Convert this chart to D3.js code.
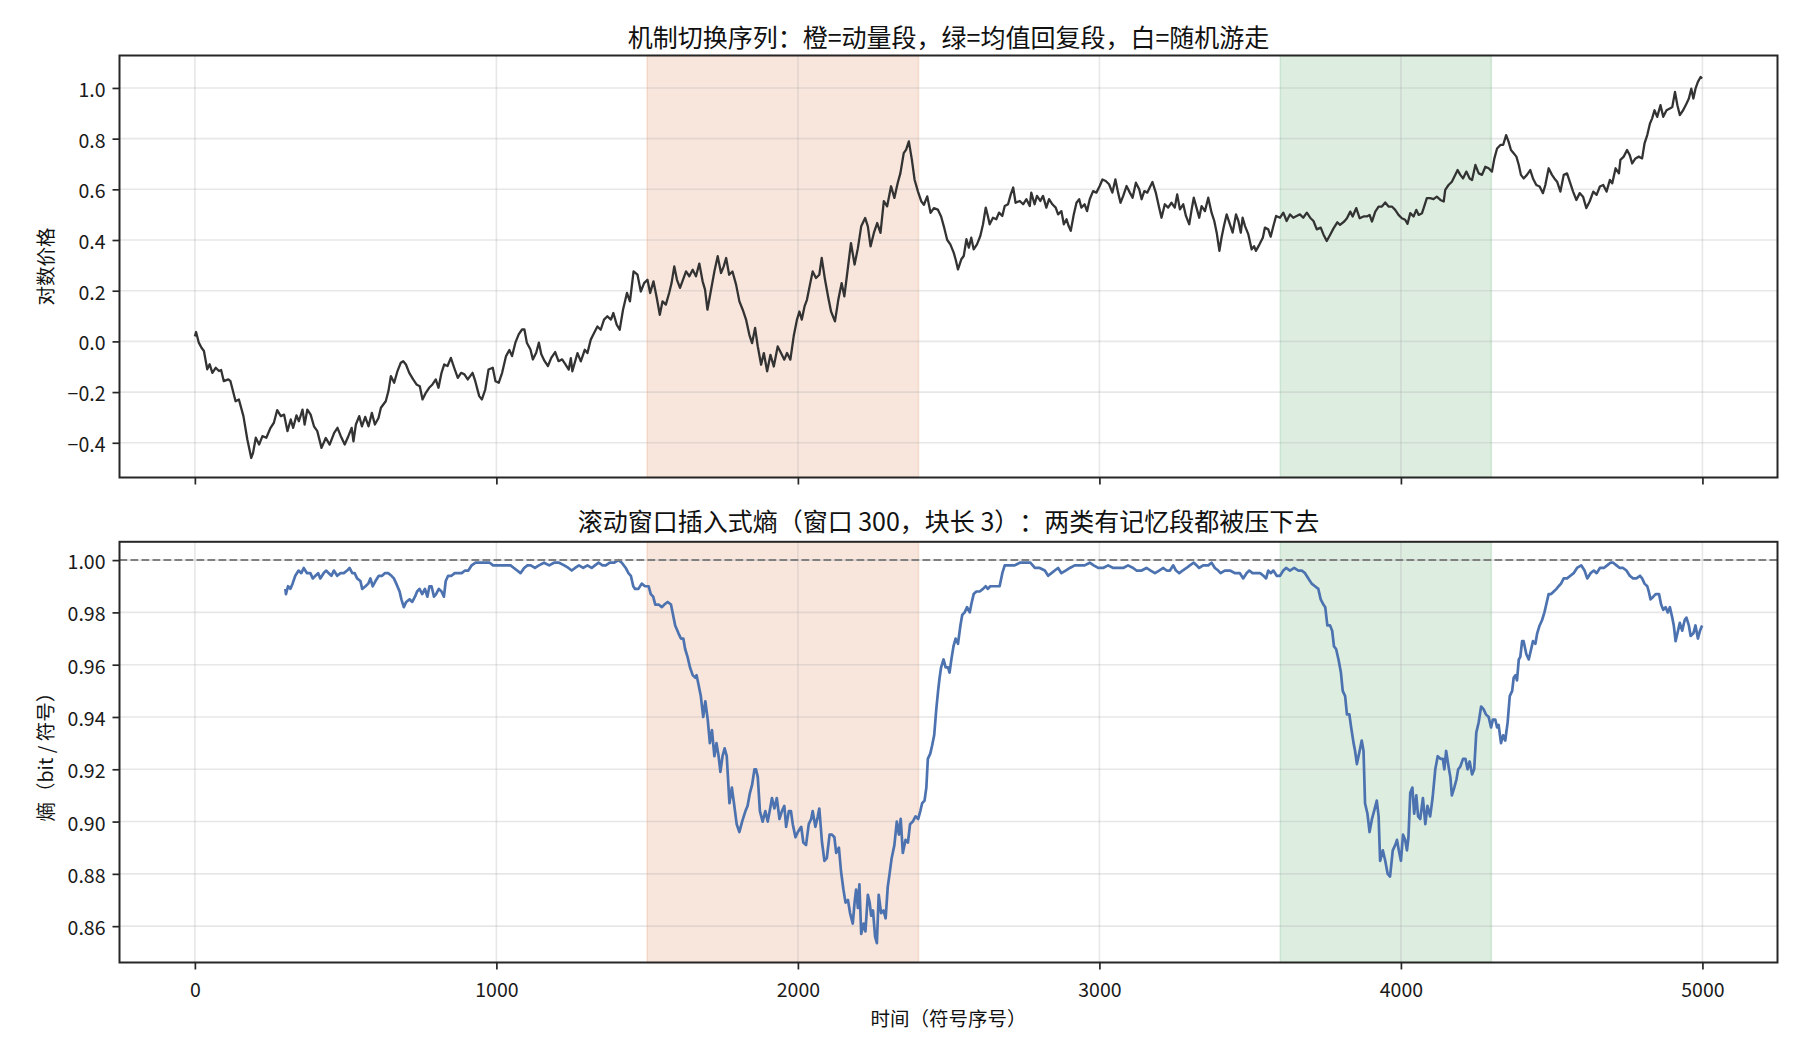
<!DOCTYPE html>
<html>
<head>
<meta charset="utf-8">
<script src="https://cdn.jsdelivr.net/npm/d3@7"></script>
<style>
  body { margin: 0; background: #fff; }
  svg { font-family: "Noto Sans CJK SC", "Noto Sans", sans-serif; }
  svg text { text-spacing-trim: space-all; font-kerning: none; }
</style>
</head>
<body>
<svg id="chart" width="1800" height="1050"></svg>
<script>
// ---- data ----
const xTicks = [0, 1000, 2000, 3000, 4000, 5000];
const priceTicks = [-0.4, -0.2, 0.0, 0.2, 0.4, 0.6, 0.8, 1.0];
const entropyTicks = [0.86, 0.88, 0.90, 0.92, 0.94, 0.96, 0.98, 1.00];
const momentumSpan = [1500, 2400];
const meanRevSpan = [3600, 4300];
const entropyRef = 1.0;

const topTitle = '机制切换序列：橙=动量段，绿=均值回复段，白=随机游走';
const bottomTitle = '滚动窗口插入式熵（窗口 300，块长 3）：两类有记忆段都被压下去';
const priceLabel = '对数价格';
const entropyLabel = '熵（bit / 符号）';
const xLabel = '时间（符号序号）';

// [symbol index, log price]
const priceSeries = [
  [0,0.02],[4,0.037],[13,-0.005],[22,-0.025],[30,-0.038],[41,-0.11],[49,-0.09],[58,-0.124],[69,-0.104],[80,-0.117],
  [87,-0.113],[96,-0.157],[111,-0.15],[118,-0.157],[135,-0.236],[146,-0.229],[161,-0.295],[174,-0.387],[187,-0.46],[193,-0.44],
  [202,-0.38],[213,-0.407],[224,-0.374],[237,-0.38],[251,-0.341],[262,-0.321],[273,-0.271],[285,-0.295],[296,-0.289],[307,-0.354],
  [318,-0.308],[326,-0.341],[337,-0.292],[345,-0.315],[357,-0.269],[364,-0.328],[373,-0.269],[384,-0.289],[395,-0.335],[406,-0.354],
  [420,-0.42],[434,-0.381],[447,-0.407],[462,-0.361],[473,-0.341],[484,-0.374],[497,-0.407],[509,-0.374],[520,-0.341],[526,-0.394],
  [534,-0.328],[545,-0.295],[554,-0.335],[565,-0.298],[576,-0.335],[587,-0.282],[597,-0.328],[609,-0.302],[617,-0.262],[633,-0.236],
  [642,-0.196],[650,-0.137],[661,-0.163],[672,-0.117],[683,-0.084],[691,-0.078],[700,-0.091],[711,-0.124],[724,-0.15],[735,-0.17],
  [746,-0.177],[755,-0.229],[766,-0.203],[777,-0.183],[788,-0.17],[799,-0.15],[808,-0.183],[818,-0.124],[827,-0.091],[838,-0.097],
  [849,-0.065],[860,-0.104],[872,-0.144],[883,-0.124],[894,-0.13],[905,-0.15],[913,-0.137],[921,-0.124],[930,-0.157],[943,-0.216],
  [952,-0.229],[963,-0.19],[974,-0.111],[988,-0.104],[997,-0.157],[1008,-0.163],[1019,-0.124],[1032,-0.058],[1043,-0.034],[1052,-0.058],
  [1063,-0.005],[1074,0.028],[1085,0.047],[1093,0.047],[1101,-0.005],[1113,-0.032],[1121,-0.071],[1132,-0.045],[1141,-0.005],[1149,-0.051],
  [1160,-0.078],[1171,-0.097],[1182,-0.065],[1195,-0.042],[1206,-0.078],[1218,-0.071],[1229,-0.091],[1240,-0.111],[1247,-0.066],[1252,-0.118],
  [1269,-0.046],[1280,-0.079],[1293,-0.033],[1302,-0.046],[1313,0.007],[1324,0.033],[1335,0.059],[1346,0.046],[1357,0.086],[1368,0.099],
  [1380,0.086],[1388,0.112],[1399,0.066],[1409,0.046],[1420,0.125],[1433,0.191],[1443,0.158],[1455,0.276],[1468,0.263],[1479,0.197],
  [1490,0.23],[1501,0.243],[1510,0.191],[1521,0.237],[1532,0.171],[1542,0.105],[1551,0.158],[1562,0.145],[1573,0.191],[1581,0.23],
  [1590,0.296],[1599,0.243],[1609,0.211],[1617,0.237],[1629,0.276],[1640,0.257],[1651,0.283],[1662,0.257],[1673,0.307],[1684,0.237],
  [1692,0.204],[1700,0.125],[1712,0.204],[1723,0.276],[1734,0.336],[1745,0.27],[1754,0.296],[1762,0.329],[1772,0.263],[1783,0.276],
  [1795,0.224],[1806,0.158],[1817,0.125],[1828,0.086],[1839,0.026],[1848,-0.007],[1858,0.053],[1867,-0.02],[1878,-0.092],[1887,-0.046],
  [1898,-0.118],[1909,-0.053],[1920,-0.099],[1933,-0.02],[1944,-0.046],[1955,-0.072],[1964,-0.046],[1975,-0.072],[1986,0.02],[1997,0.086],
  [2005,0.118],[2013,0.086],[2022,0.138],[2030,0.164],[2040,0.224],[2049,0.276],[2060,0.25],[2071,0.263],[2079,0.329],[2090,0.243],
  [2101,0.171],[2110,0.118],[2123,0.079],[2134,0.164],[2145,0.23],[2154,0.178],[2163,0.263],[2176,0.388],[2188,0.303],[2199,0.368],
  [2210,0.454],[2223,0.487],[2232,0.454],[2241,0.375],[2252,0.428],[2263,0.467],[2274,0.428],[2285,0.553],[2296,0.533],[2309,0.612],
  [2320,0.566],[2331,0.625],[2340,0.664],[2351,0.743],[2359,0.757],[2368,0.789],[2378,0.717],[2387,0.638],[2398,0.592],[2409,0.553],
  [2418,0.539],[2429,0.572],[2440,0.507],[2451,0.526],[2464,0.52],[2475,0.493],[2484,0.454],[2495,0.401],[2506,0.382],[2517,0.349],
  [2523,0.324],[2531,0.284],[2542,0.324],[2550,0.337],[2559,0.403],[2567,0.37],[2575,0.409],[2583,0.363],[2594,0.383],[2605,0.416],
  [2614,0.462],[2623,0.528],[2630,0.495],[2636,0.462],[2647,0.488],[2658,0.482],[2667,0.508],[2678,0.495],[2686,0.534],[2697,0.541],
  [2706,0.58],[2714,0.607],[2722,0.547],[2736,0.554],[2747,0.541],[2758,0.561],[2769,0.534],[2774,0.587],[2785,0.541],[2793,0.574],
  [2804,0.554],[2813,0.574],[2824,0.528],[2833,0.561],[2844,0.541],[2855,0.528],[2863,0.501],[2874,0.514],[2882,0.462],[2891,0.482],
  [2898,0.455],[2905,0.436],[2915,0.501],[2924,0.547],[2933,0.561],[2940,0.528],[2951,0.541],[2959,0.514],[2968,0.561],[2979,0.593],
  [2990,0.587],[3001,0.613],[3010,0.639],[3021,0.633],[3032,0.62],[3043,0.587],[3053,0.639],[3062,0.587],[3070,0.547],[3079,0.574],
  [3090,0.613],[3101,0.587],[3110,0.567],[3121,0.626],[3132,0.6],[3140,0.561],[3149,0.593],[3159,0.587],[3167,0.607],[3176,0.629],
  [3187,0.587],[3198,0.528],[3206,0.488],[3217,0.541],[3228,0.528],[3239,0.547],[3250,0.528],[3258,0.58],[3267,0.521],[3278,0.541],
  [3287,0.495],[3298,0.462],[3306,0.521],[3313,0.567],[3322,0.528],[3331,0.488],[3339,0.534],[3350,0.514],[3361,0.567],[3372,0.508],
  [3381,0.475],[3389,0.429],[3398,0.357],[3405,0.409],[3413,0.455],[3422,0.501],[3433,0.462],[3442,0.429],[3453,0.501],[3461,0.475],
  [3469,0.429],[3475,0.488],[3483,0.455],[3494,0.422],[3505,0.363],[3513,0.376],[3519,0.357],[3531,0.383],[3542,0.409],[3549,0.449],
  [3560,0.442],[3568,0.413],[3577,0.455],[3586,0.495],[3599,0.488],[3610,0.508],[3621,0.475],[3632,0.501],[3643,0.488],[3654,0.495],
  [3665,0.501],[3676,0.488],[3688,0.508],[3699,0.488],[3710,0.475],[3721,0.442],[3734,0.449],[3743,0.422],[3754,0.396],[3765,0.42],
  [3776,0.445],[3789,0.47],[3798,0.46],[3812,0.473],[3821,0.486],[3832,0.512],[3840,0.493],[3852,0.526],[3863,0.486],[3876,0.493],
  [3887,0.493],[3896,0.499],[3904,0.473],[3915,0.512],[3926,0.532],[3937,0.532],[3948,0.548],[3959,0.532],[3970,0.532],[3981,0.519],
  [3992,0.499],[4003,0.486],[4014,0.48],[4022,0.464],[4031,0.506],[4042,0.493],[4051,0.519],[4059,0.499],[4070,0.506],[4077,0.532],
  [4086,0.565],[4097,0.565],[4108,0.561],[4119,0.571],[4131,0.558],[4142,0.552],[4147,0.598],[4158,0.617],[4169,0.63],[4180,0.657],
  [4188,0.676],[4197,0.657],[4206,0.643],[4217,0.67],[4228,0.643],[4236,0.637],[4247,0.696],[4258,0.663],[4269,0.657],[4280,0.689],
  [4291,0.683],[4302,0.67],[4310,0.722],[4319,0.761],[4330,0.775],[4339,0.775],[4349,0.814],[4357,0.788],[4365,0.755],[4374,0.742],
  [4383,0.729],[4391,0.696],[4398,0.657],[4407,0.643],[4418,0.657],[4429,0.676],[4438,0.643],[4449,0.617],[4460,0.611],[4471,0.585],
  [4479,0.617],[4490,0.683],[4501,0.657],[4509,0.643],[4518,0.63],[4529,0.591],[4540,0.657],[4551,0.663],[4560,0.63],[4571,0.591],
  [4582,0.558],[4593,0.585],[4604,0.571],[4615,0.526],[4626,0.552],[4638,0.591],[4649,0.578],[4660,0.611],[4671,0.617],[4682,0.591],
  [4693,0.637],[4701,0.624],[4712,0.683],[4723,0.663],[4728,0.716],[4739,0.729],[4750,0.755],[4759,0.735],[4767,0.702],[4778,0.722],
  [4789,0.729],[4800,0.722],[4808,0.781],[4817,0.814],[4826,0.86],[4833,0.879],[4841,0.912],[4850,0.886],[4861,0.932],[4870,0.886],
  [4881,0.912],[4892,0.919],[4900,0.925],[4909,0.984],[4917,0.932],[4925,0.893],[4936,0.912],[4947,0.938],[4955,0.958],[4963,0.997],
  [4970,0.958],[4977,0.997],[4985,1.024],[4994,1.043],[4999,1.037]
];

// [symbol index, rolling entropy in bit/symbol], starts after the first 300-symbol window
const entropySeries = [
  [300,0.989],[302,0.987],[309,0.990],[317,0.989],[324,0.991],[333,0.994],[344,0.996],[353,0.995],[361,0.997],[372,0.995],
  [383,0.995],[391,0.993],[400,0.994],[409,0.995],[416,0.993],[427,0.995],[435,0.996],[444,0.995],[453,0.994],[461,0.996],
  [472,0.994],[483,0.995],[494,0.995],[505,0.996],[513,0.997],[522,0.995],[530,0.995],[538,0.993],[549,0.992],[555,0.989],
  [566,0.990],[575,0.991],[582,0.993],[590,0.990],[599,0.992],[610,0.994],[621,0.994],[630,0.995],[641,0.995],[652,0.994],
  [660,0.993],[668,0.991],[679,0.988],[685,0.985],[693,0.982],[701,0.984],[712,0.985],[721,0.984],[730,0.986],[737,0.988],
  [745,0.989],[754,0.987],[763,0.989],[771,0.986],[778,0.990],[785,0.990],[793,0.986],[800,0.987],[809,0.989],[818,0.988],
  [826,0.986],[832,0.992],[840,0.994],[851,0.994],[862,0.995],[874,0.995],[885,0.995],[896,0.996],[907,0.996],[918,0.998],
  [931,0.999],[948,0.999],[964,0.999],[978,0.999],[989,0.998],[1000,0.998],[1014,0.998],[1031,0.998],[1047,0.998],[1058,0.997],
  [1069,0.996],[1080,0.995],[1092,0.997],[1103,0.998],[1114,0.998],[1128,0.997],[1141,0.998],[1158,0.999],[1175,0.998],[1191,0.999],
  [1208,0.999],[1225,0.998],[1239,0.997],[1250,0.996],[1261,0.997],[1274,0.998],[1288,0.997],[1302,0.998],[1316,0.997],[1327,0.998],
  [1339,0.999],[1352,0.998],[1363,0.998],[1376,0.999],[1390,0.999],[1405,1.000],[1416,0.999],[1429,0.997],[1438,0.995],[1446,0.994],
  [1454,0.990],[1460,0.989],[1471,0.989],[1482,0.991],[1493,0.990],[1505,0.990],[1512,0.987],[1520,0.986],[1527,0.983],[1538,0.983],
  [1549,0.982],[1557,0.983],[1568,0.984],[1579,0.983],[1586,0.979],[1593,0.975],[1604,0.972],[1612,0.970],[1620,0.970],[1626,0.966],
  [1634,0.963],[1642,0.959],[1651,0.956],[1660,0.955],[1664,0.956],[1671,0.952],[1678,0.948],[1686,0.940],[1693,0.946],[1701,0.939],
  [1708,0.930],[1715,0.935],[1723,0.925],[1730,0.930],[1737,0.925],[1743,0.919],[1750,0.925],[1757,0.928],[1764,0.925],[1773,0.907],
  [1781,0.913],[1788,0.907],[1797,0.899],[1806,0.896],[1815,0.900],[1826,0.904],[1833,0.906],[1841,0.911],[1848,0.914],[1856,0.920],
  [1861,0.920],[1867,0.917],[1874,0.904],[1883,0.900],[1892,0.904],[1900,0.900],[1908,0.905],[1914,0.909],[1922,0.905],[1930,0.909],
  [1939,0.901],[1947,0.904],[1955,0.906],[1961,0.898],[1970,0.904],[1977,0.904],[1983,0.899],[1992,0.894],[2000,0.896],[2011,0.898],
  [2018,0.892],[2027,0.891],[2036,0.899],[2044,0.901],[2049,0.904],[2058,0.898],[2066,0.902],[2071,0.905],[2080,0.892],[2088,0.885],
  [2096,0.886],[2105,0.895],[2113,0.895],[2121,0.894],[2127,0.888],[2136,0.890],[2143,0.881],[2151,0.874],[2158,0.869],[2166,0.870],
  [2173,0.865],[2182,0.861],[2188,0.869],[2193,0.874],[2199,0.867],[2204,0.876],[2210,0.857],[2218,0.861],[2224,0.858],[2232,0.872],
  [2238,0.869],[2243,0.864],[2249,0.866],[2256,0.856],[2262,0.8535],[2268,0.872],[2276,0.865],[2284,0.866],[2291,0.863],[2298,0.875],
  [2304,0.880],[2311,0.886],[2320,0.891],[2328,0.900],[2335,0.895],[2341,0.901],[2348,0.888],[2357,0.893],[2365,0.892],[2372,0.899],
  [2381,0.900],[2390,0.902],[2399,0.901],[2406,0.904],[2412,0.907],[2420,0.908],[2426,0.913],[2431,0.924],[2439,0.926],[2445,0.929],
  [2452,0.933],[2459,0.943],[2465,0.950],[2470,0.955],[2475,0.959],[2483,0.962],[2490,0.959],[2498,0.959],[2503,0.957],[2509,0.962],
  [2516,0.967],[2523,0.970],[2531,0.968],[2539,0.975],[2545,0.979],[2553,0.980],[2561,0.982],[2570,0.980],[2575,0.983],[2583,0.987],
  [2592,0.988],[2603,0.988],[2614,0.989],[2623,0.990],[2630,0.989],[2638,0.990],[2647,0.990],[2658,0.990],[2669,0.990],[2678,0.995],
  [2686,0.998],[2702,0.998],[2719,0.998],[2736,0.999],[2756,0.999],[2771,0.999],[2786,0.997],[2802,0.997],[2819,0.996],[2830,0.994],
  [2841,0.995],[2852,0.996],[2863,0.997],[2874,0.995],[2888,0.996],[2902,0.997],[2918,0.998],[2935,0.998],[2951,0.998],[2968,0.999],
  [2981,0.998],[2996,0.997],[3012,0.997],[3029,0.998],[3046,0.997],[3062,0.997],[3079,0.997],[3095,0.998],[3112,0.997],[3123,0.996],
  [3140,0.996],[3156,0.997],[3170,0.996],[3184,0.995],[3198,0.996],[3212,0.997],[3223,0.996],[3234,0.996],[3245,0.998],[3254,0.996],
  [3265,0.995],[3276,0.996],[3289,0.997],[3300,0.998],[3313,0.999],[3322,0.998],[3331,0.997],[3344,0.998],[3361,0.998],[3372,0.999],
  [3383,0.997],[3394,0.996],[3402,0.995],[3416,0.996],[3433,0.996],[3450,0.995],[3466,0.995],[3477,0.993],[3488,0.995],[3497,0.996],
  [3508,0.995],[3521,0.995],[3533,0.995],[3544,0.994],[3553,0.993],[3560,0.996],[3568,0.995],[3577,0.996],[3588,0.994],[3599,0.994],
  [3610,0.996],[3619,0.997],[3632,0.996],[3646,0.997],[3660,0.996],[3671,0.996],[3682,0.995],[3693,0.993],[3704,0.991],[3715,0.990],
  [3726,0.989],[3734,0.985],[3743,0.983],[3749,0.982],[3756,0.975],[3765,0.975],[3772,0.973],[3778,0.967],[3785,0.966],[3793,0.962],
  [3801,0.957],[3807,0.950],[3815,0.948],[3821,0.941],[3829,0.941],[3835,0.936],[3843,0.930],[3848,0.927],[3854,0.922],[3863,0.927],
  [3870,0.931],[3876,0.927],[3881,0.907],[3889,0.903],[3896,0.896],[3904,0.901],[3911,0.904],[3920,0.908],[3926,0.902],[3931,0.885],
  [3940,0.889],[3948,0.885],[3956,0.880],[3964,0.879],[3973,0.889],[3981,0.891],[3987,0.893],[3993,0.889],[4000,0.885],[4007,0.895],
  [4014,0.893],[4020,0.889],[4025,0.894],[4031,0.911],[4038,0.913],[4044,0.903],[4051,0.910],[4057,0.902],[4064,0.901],[4073,0.909],
  [4081,0.899],[4088,0.906],[4097,0.902],[4105,0.909],[4114,0.920],[4122,0.925],[4131,0.924],[4139,0.924],[4144,0.920],[4150,0.927],
  [4158,0.921],[4164,0.917],[4169,0.910],[4177,0.913],[4184,0.916],[4190,0.920],[4197,0.921],[4206,0.924],[4214,0.924],[4221,0.920],
  [4228,0.923],[4236,0.918],[4243,0.920],[4250,0.934],[4258,0.938],[4266,0.944],[4274,0.943],[4282,0.941],[4291,0.940],[4299,0.936],
  [4305,0.939],[4313,0.939],[4319,0.936],[4324,0.937],[4332,0.930],[4339,0.933],[4346,0.931],[4354,0.938],[4361,0.948],[4369,0.950],
  [4374,0.955],[4380,0.956],[4385,0.954],[4391,0.962],[4396,0.963],[4402,0.969],[4407,0.969],[4416,0.964],[4424,0.962],[4432,0.966],
  [4438,0.969],[4446,0.968],[4452,0.972],[4460,0.975],[4468,0.977],[4476,0.980],[4482,0.983],[4490,0.987],[4498,0.987],[4507,0.988],
  [4516,0.989],[4523,0.990],[4531,0.991],[4540,0.993],[4551,0.993],[4562,0.994],[4573,0.995],[4584,0.997],[4598,0.998],[4609,0.996],
  [4618,0.993],[4629,0.995],[4640,0.996],[4649,0.995],[4660,0.997],[4673,0.997],[4684,0.998],[4695,0.999],[4704,0.999],[4715,0.998],
  [4726,0.997],[4737,0.997],[4748,0.996],[4759,0.994],[4770,0.993],[4781,0.993],[4793,0.994],[4800,0.993],[4808,0.991],[4817,0.990],
  [4822,0.988],[4828,0.985],[4837,0.986],[4845,0.987],[4856,0.987],[4863,0.983],[4870,0.981],[4878,0.982],[4885,0.980],[4892,0.982],
  [4900,0.978],[4905,0.975],[4911,0.969],[4919,0.973],[4925,0.976],[4933,0.973],[4941,0.977],[4947,0.978],[4955,0.975],[4961,0.971],
  [4970,0.972],[4977,0.975],[4985,0.970],[4992,0.973],[4999,0.975]
];

// ---- layout ----
const svg = d3.select('#chart');
const plotLeft = 119.5, plotRight = 1777.5;
const tickColor = '#262626';

const x = d3.scaleLinear().domain([-250, 5249]).range([plotLeft, plotRight]);

const panels = [
  {
    id: 'price', top: 55.5, bottom: 477.5, domain: [-0.537, 1.128],
    ticks: priceTicks, fmt: d3.format('.1f'), title: topTitle, titleY: 36,
    label: priceLabel, data: priceSeries, color: '#333333', width: 2.3, showX: false
  },
  {
    id: 'entropy', top: 541.8, bottom: 962.5, domain: [0.8461, 1.0070],
    ticks: entropyTicks, fmt: d3.format('.2f'), title: bottomTitle, titleY: 520,
    label: entropyLabel, data: entropySeries, color: '#4c72b0', width: 2.7, showX: true,
    refLine: entropyRef
  }
];

panels.forEach(p => {
  const y = d3.scaleLinear().domain(p.domain).range([p.bottom, p.top]);
  const g = svg.append('g');

  g.append('clipPath').attr('id', 'clip-' + p.id)
    .append('rect')
    .attr('x', plotLeft).attr('y', p.top)
    .attr('width', plotRight - plotLeft).attr('height', p.bottom - p.top);

  // regime shading
  [[momentumSpan, '#dd8452'], [meanRevSpan, '#55a868']].forEach(([span, c]) => {
    g.append('rect')
      .attr('x', x(span[0])).attr('y', p.top)
      .attr('width', x(span[1]) - x(span[0])).attr('height', p.bottom - p.top)
      .attr('fill', c).attr('fill-opacity', 0.2)
      .attr('stroke', c).attr('stroke-opacity', 0.2).attr('stroke-width', 1.6);
  });

  // grid
  g.append('g').selectAll('line').data(xTicks).join('line')
    .attr('x1', d => x(d)).attr('x2', d => x(d))
    .attr('y1', p.top).attr('y2', p.bottom)
    .attr('stroke', '#b0b0b0').attr('stroke-opacity', 0.3).attr('stroke-width', 1.6);
  g.append('g').selectAll('line').data(p.ticks).join('line')
    .attr('x1', plotLeft).attr('x2', plotRight)
    .attr('y1', d => y(d)).attr('y2', d => y(d))
    .attr('stroke', '#b0b0b0').attr('stroke-opacity', 0.3).attr('stroke-width', 1.6);

  const line = d3.line().x(d => x(d[0])).y(d => y(d[1]));
  g.append('path')
    .datum(p.data)
    .attr('clip-path', 'url(#clip-' + p.id + ')')
    .attr('fill', 'none')
    .attr('stroke', p.color)
    .attr('stroke-width', p.width)
    .attr('stroke-linejoin', 'round')
    .attr('d', line);

  if (p.refLine !== undefined) {
    g.append('line')
      .attr('x1', plotLeft).attr('x2', plotRight)
      .attr('y1', y(p.refLine)).attr('y2', y(p.refLine))
      .attr('stroke', '#808080').attr('stroke-width', 2)
      .attr('stroke-dasharray', '7.7,3.3');
  }

  // axes
  const xAxis = d3.axisBottom(x).tickValues(xTicks).tickSize(7).tickSizeOuter(0)
    .tickPadding(8).tickFormat(p.showX ? d3.format('d') : '');
  const gx = g.append('g').attr('transform', `translate(0,${p.bottom})`).call(xAxis);
  const yAxis = d3.axisLeft(y).tickValues(p.ticks).tickSize(7).tickSizeOuter(0)
    .tickPadding(7).tickFormat(p.fmt);
  const gy = g.append('g').attr('transform', `translate(${plotLeft},0)`).call(yAxis);

  [gx, gy].forEach(a => {
    a.select('.domain').remove();
    a.selectAll('.tick line').attr('stroke', tickColor).attr('stroke-width', 1.7);
    a.selectAll('.tick text').attr('fill', '#1a1a1a').style('font-size', '19.5px')
      .style('font-family', '"Noto Sans CJK SC", sans-serif');
  });
  gx.selectAll('.tick text').attr('dy', null).attr('y', 26).attr('dominant-baseline', 'central');
  gy.selectAll('.tick text').attr('dy', null).attr('dominant-baseline', 'central');

  // frame
  g.append('rect')
    .attr('x', plotLeft).attr('y', p.top)
    .attr('width', plotRight - plotLeft).attr('height', p.bottom - p.top)
    .attr('fill', 'none').attr('stroke', tickColor).attr('stroke-width', 2);

  g.append('text')
    .attr('x', (plotLeft + plotRight) / 2).attr('y', p.titleY)
    .attr('text-anchor', 'middle').attr('dominant-baseline', 'central')
    .style('font-size', '25px').attr('fill', '#111')
    .text(p.title);

  g.append('text')
    .attr('transform', `translate(44,${(p.top + p.bottom) / 2}) rotate(-90)`)
    .attr('text-anchor', 'middle').attr('dominant-baseline', 'central')
    .style('font-size', '19.5px').attr('fill', '#111')
    .text(p.label);
});

svg.append('text')
  .attr('x', (plotLeft + plotRight) / 2).attr('y', 1017)
  .attr('text-anchor', 'middle').attr('dominant-baseline', 'central')
  .style('font-size', '19.5px').attr('fill', '#111')
  .text(xLabel);
</script>
</body>
</html>
